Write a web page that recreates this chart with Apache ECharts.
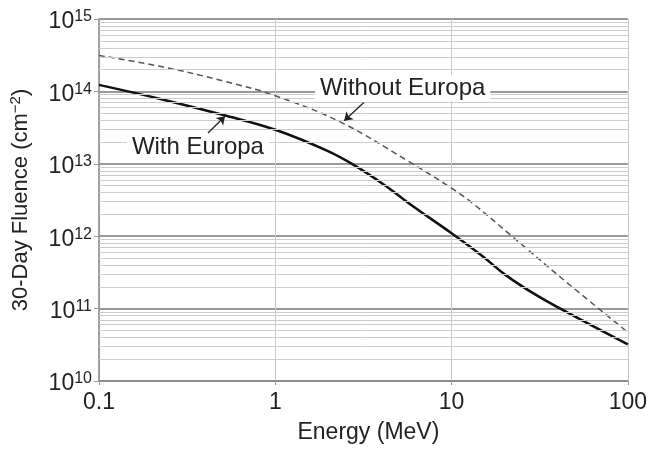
<!DOCTYPE html>
<html>
<head>
<meta charset="utf-8">
<script src="https://cdn.jsdelivr.net/npm/echarts@6/dist/echarts.min.js"></script>
<style>
html, body { margin: 0; padding: 0; background: #fff; }
#main { width: 650px; height: 449px; }
</style>
</head>
<body>
<div id="main"></div>
<script>
// energies (MeV) and 30-day fluence (cm^-2)
var withEnergy = [0.1, 0.226, 0.508, 1, 1.95, 2.86, 4.18, 6.1, 10, 15, 20.3, 29.8, 47.6, 100];
var withFluence = [1.23e14, 7.8e13, 4.72e13, 2.95e13, 1.53e13, 9.3e12, 5.06e12, 2.55e12, 1.1e12, 5.3e11, 2.9e11, 1.57e11, 8.3e10, 3.2e10];

var withoutEnergy = [0.1, 0.226, 0.508, 1, 2.36, 5.6, 10, 13.2, 22, 42, 100];
var withoutFluence = [3.14e14, 2.2e14, 1.39e14, 8.7e13, 3.74e13, 1.11e13, 4.6e12, 2.84e12, 1.0e12, 2.65e11, 4.7e10];

// axis ranges
var xMin = 0.1, xMax = 100;
var yMin = 1e10, yMax = 1e15;

var font = '"Liberation Sans", Arial, Helvetica, sans-serif';

// minor log grid lines (2..9 in every decade)
var minorLines = [];
for (var e = 10; e < 15; e++) {
    for (var m = 2; m <= 9; m++) {
        minorLines.push({ yAxis: m * Math.pow(10, e) });
    }
}

function pairs(xs, ys) {
    return xs.map(function (x, i) { return [x, ys[i]]; });
}

var myChart = echarts.init(document.getElementById('main'));

var option = {
    backgroundColor: '#fff',
    animation: false,
    grid: { left: 98, right: 12, top: 19, bottom: 66 },
    xAxis: {
        type: 'log',
        logBase: 10,
        min: xMin,
        max: xMax,
        interval: 1,
        name: 'Energy (MeV)',
        nameLocation: 'middle',
        nameGap: 40,
        nameTextStyle: { fontFamily: font, fontSize: 23, color: '#222', padding: [0, 0, 0, 10] },
        axisLine: { lineStyle: { color: '#888', width: 1.5 } },
        axisTick: { show: true, length: 4, lineStyle: { color: '#999' } },
        axisLabel: {
            fontFamily: font, fontSize: 23, color: '#222', margin: 10,
            formatter: function (v) { return String(+v.toPrecision(3)); }
        },
        splitLine: { show: true, lineStyle: { color: '#c8c8c8', width: 1 } }
    },
    yAxis: {
        type: 'log',
        logBase: 10,
        min: yMin,
        max: yMax,
        interval: 1,
        name: '30-Day Fluence (cm{s|\u22122})',
        nameLocation: 'middle',
        nameGap: 66,
        nameTextStyle: {
            fontFamily: font, fontSize: 22, color: '#222',
            rich: {
                s: { fontFamily: font, fontSize: 15, color: '#222', padding: [0, 0, 10, 0] }
            }
        },
        axisLine: { show: true, lineStyle: { color: '#888', width: 1.5 } },
        axisTick: { show: true, length: 5, lineStyle: { color: '#999' } },
        axisLabel: {
            margin: 7,
            padding: [6, 0, 0, 0],
            formatter: function (v) {
                return '{b|10}{s|' + Math.round(Math.log10(v)) + '}';
            },
            rich: {
                b: { fontFamily: font, fontSize: 23, color: '#222' },
                s: { fontFamily: font, fontSize: 16, color: '#222', padding: [0, 0, 10, 0] }
            }
        },
        splitLine: { show: true, lineStyle: { color: '#999', width: 2 } }
    },
    series: [
        {
            // minor grid
            type: 'line',
            z: 1,
            silent: true,
            data: [],
            markLine: {
                silent: true,
                symbol: 'none',
                label: { show: false },
                lineStyle: { color: '#cccccc', width: 1, type: 'solid' },
                data: minorLines
            }
        },
        {
            name: 'Without Europa',
            type: 'line',
            z: 3,
            smooth: 0.4,
            showSymbol: false,
            lineStyle: { color: '#555', width: 1.5, type: [6, 4] },
            data: pairs(withoutEnergy, withoutFluence),
            markLine: {
                silent: true,
                symbol: ['none', 'arrow'],
                symbolSize: 8,
                label: { show: false },
                lineStyle: { color: '#222', width: 1.3, type: 'solid' },
                data: [[{ coord: [3.18, 7.04e13] }, { coord: [2.46, 3.94e13] }]]
            },
            markPoint: {
                silent: true,
                symbol: 'rect',
                symbolSize: 1,
                itemStyle: { color: 'rgba(0,0,0,0)' },
                label: {
                    show: true, position: 'inside', formatter: '{b}',
                    fontFamily: font, fontSize: 24, color: '#222',
                    backgroundColor: '#fff', padding: [1, 5]
                },
                data: [{ name: 'Without Europa', coord: [5.28, 1.11e14] }]
            }
        },
        {
            name: 'With Europa',
            type: 'line',
            z: 3,
            smooth: 0.4,
            showSymbol: false,
            lineStyle: { color: '#111', width: 2.5 },
            data: pairs(withEnergy, withFluence),
            markLine: {
                silent: true,
                symbol: ['none', 'arrow'],
                symbolSize: 8,
                label: { show: false },
                lineStyle: { color: '#222', width: 1.3, type: 'solid' },
                data: [[{ coord: [0.415, 2.67e13] }, { coord: [0.519, 4.53e13] }]]
            },
            markPoint: {
                silent: true,
                symbol: 'rect',
                symbolSize: 1,
                itemStyle: { color: 'rgba(0,0,0,0)' },
                label: {
                    show: true, position: 'inside', formatter: '{b}',
                    fontFamily: font, fontSize: 24, color: '#222',
                    backgroundColor: '#fff', padding: [1, 5]
                },
                data: [{ name: 'With Europa', coord: [0.364, 1.66e13] }]
            }
        }
    ]
};

myChart.setOption(option);
</script>
</body>
</html>
